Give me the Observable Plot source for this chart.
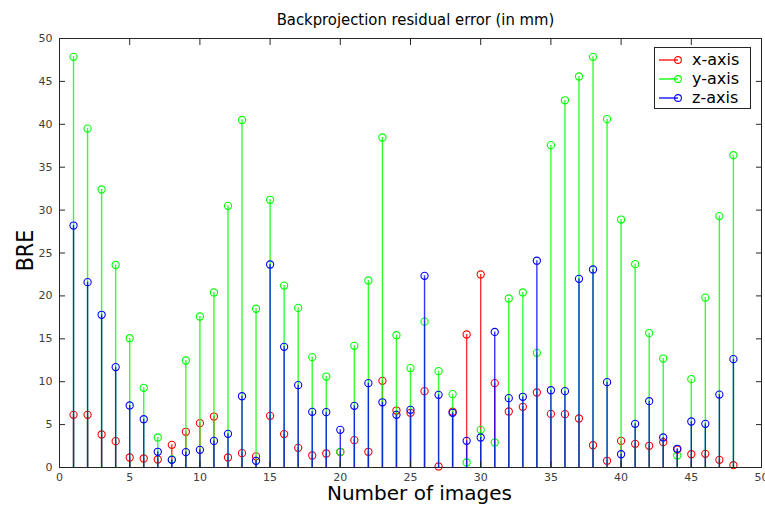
<!DOCTYPE html>
<html>
<head>
<meta charset="utf-8">
<script src="https://cdn.jsdelivr.net/npm/d3@7"></script>
<script src="https://cdn.jsdelivr.net/npm/@observablehq/plot@0.6"></script>
<style>
  body { margin: 0; background: #fff; }
  #wrap { position: relative; width: 765px; height: 511px; overflow: hidden; }
  #legend { position: absolute; left: 654px; top: 47px; width: 95px; height: 60px;
            border: 1px solid #262626; background: #fff; font-family: "DejaVu Sans", sans-serif;
            font-size: 16px; color: #000; }
  .lrow { position: absolute; left: 0; height: 18px; display: flex; align-items: center; }
  .lrow svg { margin-left: 3px; }
  .lrow span { margin-left: 10px; line-height: 18px; }
</style>
</head>
<body>
<div id="wrap">
  <div id="chart"></div>
  <div id="legend"></div>
</div>
<script>
const images = [1,2,3,4,5,6,7,8,9,10,11,12,13,14,15,16,17,18,19,20,21,22,23,24,
                25,26,27,28,29,30,31,32,33,34,35,36,37,38,39,40,41,42,43,44,45,46,47,48];

const xAxisErr = [6.14,6.14,3.85,3.07,1.17,1.05,0.93,2.64,4.16,5.17,5.94,1.17,1.67,1.3,6.02,3.89,
                  2.29,1.4,1.63,1.8,3.19,1.83,10.1,6.64,6.37,8.9,0.12,6.5,15.5,22.5,9.83,6.53,
                  7.07,8.74,6.25,6.22,5.71,2.6,0.78,3.1,2.76,2.53,2.95,2.1,1.55,1.59,0.89,0.27];

const yAxisErr = [47.86,39.5,32.4,23.6,15.07,9.29,3.5,0.93,12.47,17.6,20.4,30.5,40.5,18.5,31.2,21.2,
                  18.6,12.86,10.6,1.83,14.18,21.8,38.46,15.42,11.58,17.0,11.23,8.55,0.58,4.39,2.91,19.7,
                  20.4,13.36,37.57,42.8,45.57,47.86,40.6,28.9,23.7,15.66,12.7,1.4,10.3,19.8,29.3,36.4];

const zAxisErr = [28.2,21.6,17.8,11.7,7.23,5.63,1.83,0.89,1.79,2.06,3.1,3.92,8.31,0.78,23.66,14.06,
                  9.6,6.49,6.45,4.39,7.19,9.83,7.6,6.14,6.72,22.34,8.47,6.37,3.11,3.5,15.8,8.08,
                  8.24,24.1,9.01,8.9,21.99,23.08,9.95,1.55,5.09,7.73,3.5,2.18,5.36,5.09,8.5,12.63];

const seriesNames = ["x-axis", "y-axis", "z-axis"];
const seriesColors = ["#ff0000", "#00ff00", "#0000ff"];
const xTicks = [0, 5, 10, 15, 20, 25, 30, 35, 40, 45, 50];
const yTicks = [0, 5, 10, 15, 20, 25, 30, 35, 40, 45, 50];
const titleText = "Backprojection residual error (in mm)";
const xLabel = "Number of images";
const yLabel = "BRE";

const toRows = (vals, name) => images.map((img, i) => ({image: img, value: vals[i], series: name}));
const seriesData = [toRows(xAxisErr, seriesNames[0]), toRows(yAxisErr, seriesNames[1]), toRows(zAxisErr, seriesNames[2])];

const axisColor = "#262626";
const noLabel = () => "";
const condensed = "DejaVu Sans Condensed, DejaVu Sans, sans-serif";

const chart = Plot.plot({
  width: 765,
  height: 511,
  marginLeft: 59,
  marginRight: 4,
  marginTop: 38,
  marginBottom: 44,
  style: {background: "#fff", fontFamily: "DejaVu Sans, sans-serif"},
  x: {domain: [0, 50]},
  y: {domain: [0, 50]},
  color: {domain: seriesNames, range: seriesColors},
  marks: [
    ...seriesData.flatMap(d => [
      Plot.ruleX(d, {x: "image", y1: 0, y2: "value", stroke: "series", strokeWidth: 1.4, strokeOpacity: 0.8}),
      Plot.dot(d, {x: "image", y: "value", stroke: "series", fill: "none", r: 3.6, strokeWidth: 1.1})
    ]),
    Plot.frame({stroke: axisColor, strokeWidth: 1}),
    Plot.axisX({anchor: "bottom", ticks: xTicks, tickSize: 0, tickPadding: 6, fontSize: 11, color: "#404040", label: null}),
    Plot.axisX({anchor: "bottom", ticks: xTicks, tickSize: -6, tickFormat: noLabel, stroke: axisColor, label: null}),
    Plot.axisX({anchor: "top", ticks: xTicks, tickSize: -6, tickFormat: noLabel, stroke: axisColor, label: null}),
    Plot.axisY({anchor: "left", ticks: yTicks, tickSize: 0, tickPadding: 7, fontSize: 11, color: "#404040", label: null}),
    Plot.axisY({anchor: "left", ticks: yTicks, tickSize: -6, tickFormat: noLabel, stroke: axisColor, label: null}),
    Plot.axisY({anchor: "right", ticks: yTicks, tickSize: -6, tickFormat: noLabel, stroke: axisColor, label: null}),
    Plot.text([titleText], {text: d => d, frameAnchor: "top", textAnchor: "middle", lineAnchor: "middle",
      dy: -18.5, dx: 5, fontSize: 16.5, fontFamily: condensed, fill: "#000"}),
    Plot.text([xLabel], {text: d => d, frameAnchor: "bottom", textAnchor: "middle", lineAnchor: "middle",
      dy: 26.5, dx: 9, fontSize: 20, fill: "#000"}),
    Plot.text([yLabel], {text: d => d, frameAnchor: "left", textAnchor: "middle", lineAnchor: "middle",
      rotate: -90, dx: -33.5, dy: -2.5, fontSize: 23, fontFamily: condensed, fill: "#000"})
  ]
});
document.getElementById("chart").appendChild(chart);

const legend = document.getElementById("legend");
const rowTops = [3, 22, 41];
seriesNames.forEach((name, i) => {
  const row = document.createElement("div");
  row.className = "lrow";
  row.style.top = rowTops[i] + "px";
  row.innerHTML = `<svg width="24" height="10"><line x1="1" y1="5" x2="20" y2="5" stroke="${seriesColors[i]}" stroke-width="1.3"/>` +
    `<circle cx="20" cy="5" r="3.4" fill="none" stroke="${seriesColors[i]}" stroke-width="1.1"/></svg><span>${name}</span>`;
  legend.appendChild(row);
});
</script>
</body>
</html>
